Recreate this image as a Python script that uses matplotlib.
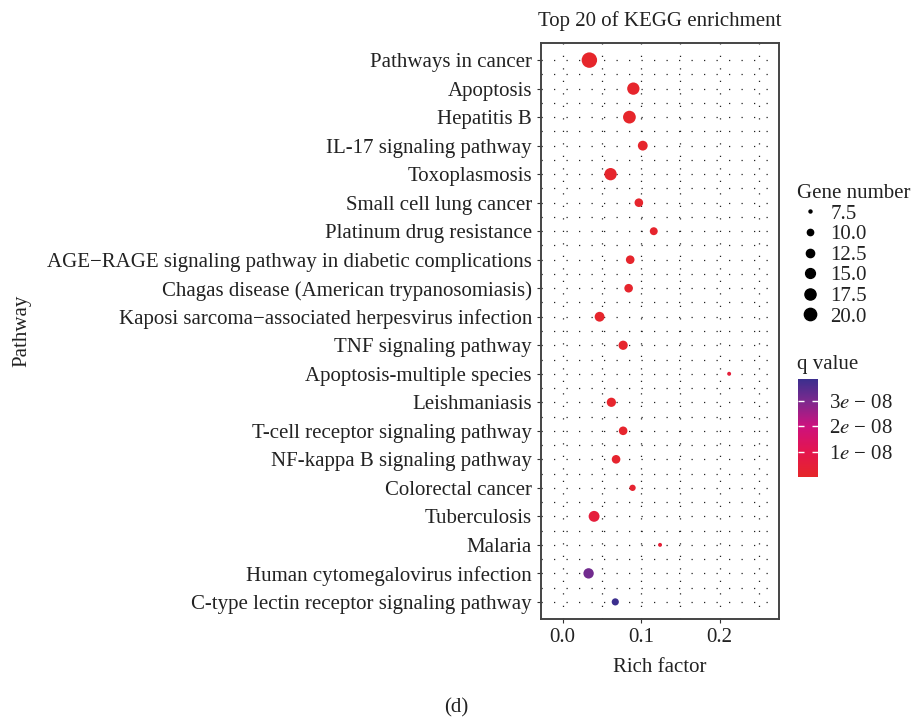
import numpy as np
import matplotlib
matplotlib.use('Agg')
import matplotlib.pyplot as plt
from matplotlib.colors import LinearSegmentedColormap, Normalize
from matplotlib.lines import Line2D

plt.rcParams['font.family'] = ['Liberation Serif', 'DejaVu Serif']
plt.rcParams['mathtext.fontset'] = 'stix'

# data, top row first
pathways = ['Pathways in cancer', 'Apoptosis', 'Hepatitis B', 'IL-17 signaling pathway',
            'Toxoplasmosis', 'Small cell lung cancer', 'Platinum drug resistance',
            'AGE\u2212RAGE signaling pathway in diabetic complications',
            'Chagas disease (American trypanosomiasis)',
            'Kaposi sarcoma\u2212associated herpesvirus infection', 'TNF signaling pathway',
            'Apoptosis-multiple species', 'Leishmaniasis', 'T-cell receptor signaling pathway',
            'NF-kappa B signaling pathway', 'Colorectal cancer', 'Tuberculosis', 'Malaria',
            'Human cytomegalovirus infection', 'C-type lectin receptor signaling pathway']
rich_factor = [0.034, 0.090, 0.085, 0.102, 0.061, 0.097, 0.116, 0.086, 0.084, 0.047,
               0.077, 0.212, 0.062, 0.077, 0.068, 0.089, 0.040, 0.124, 0.033, 0.067]
gene_number = [28, 20, 21, 15, 20, 13, 12, 13, 13, 15,
               14, 8, 14, 13, 13, 10, 17, 8, 16, 11]
q_value = [0.02e-8, 0.05e-8, 0.04e-8, 0.06e-8, 0.05e-8, 0.08e-8, 0.10e-8, 0.07e-8, 0.08e-8, 0.06e-8,
           0.09e-8, 0.45e-8, 0.10e-8, 0.10e-8, 0.12e-8, 0.20e-8, 0.50e-8, 0.35e-8, 3.15e-8, 3.87e-8]

legend_genes = [7.5, 10.0, 12.5, 15.0, 17.5, 20.0]
x_ticks = [0.0, 0.1, 0.2]
q_ticks = [1e-8, 2e-8, 3e-8]
q_ticklabels = ['1$e$ \u2212 08', '2$e$ \u2212 08', '3$e$ \u2212 08']

FS = 15
TXT = '#222222'


def dot_diam(g):
    # gene number -> marker diameter in points
    g = np.asarray(g, dtype=float)
    px = 0.75 + 14.7 * np.sqrt(np.clip(g - 7, 0, None) / 21.0)
    return px * 0.72


cmap = LinearSegmentedColormap.from_list('qv', [(0.0, '#E6262A'), (0.26, '#E4164F'),
                                                (0.52, '#CD127F'), (0.78, '#7B2A8E'),
                                                (1.0, '#3C2F8E')])
norm = Normalize(vmin=0, vmax=3.87e-8)

fig = plt.figure(figsize=(9.13, 7.18), dpi=100)
ax = fig.add_axes([541/913, 1-619/718, 238/913, 576/718])

n = len(pathways)
ypos = np.arange(n)[::-1] + 1

ax.set_xlim(-0.0276, 0.2755)
ax.set_ylim(0.4, n + 0.6)

# dotted grid, major and minor
gs = dict(color='#222222', linewidth=0.9, linestyle=(0, (1, 9)), zorder=0)
for xv in [0.0, 0.05, 0.1, 0.15, 0.2, 0.25]:
    ax.axvline(xv, **gs)
for yv in np.arange(1, n + 1):
    ax.axhline(yv, **gs)
for yv in np.arange(1.5, n, 1.0):
    ax.axhline(yv, **gs)

ax.scatter(rich_factor, ypos, s=dot_diam(gene_number)**2, c=q_value, cmap=cmap, norm=norm,
           edgecolors='none', zorder=3)

ax.set_yticks(ypos)
ax.set_yticklabels(pathways, fontsize=FS, color=TXT)
ax.set_xticks(x_ticks)
ax.set_xticklabels(['%.1f' % v for v in x_ticks], fontsize=FS, color=TXT)
ax.tick_params(length=3, color='#333333', width=0.8)
for sp in ax.spines.values():
    sp.set_color('#444444')
    sp.set_linewidth(1.4)

ax.set_title('Top 20 of KEGG enrichment', fontsize=FS, color=TXT, pad=12)
ax.set_xlabel('Rich factor', fontsize=FS, color=TXT, labelpad=8)
fig.text(22/913, 1-331/718, 'Pathway', rotation=90, ha='center', va='center',
         fontsize=FS, color=TXT)
fig.text(0.5, 1-708/718, '(d)', ha='center', va='center', fontsize=FS, color=TXT)

# size legend
handles = [Line2D([], [], marker='o', linestyle='none', color='black',
                  markersize=d) for d in dot_diam(legend_genes)]
leg = fig.legend(handles, ['%.1f' % v for v in legend_genes], title='Gene number',
                 loc='upper left', bbox_to_anchor=(797/913, 1-184/718), frameon=False,
                 fontsize=FS, title_fontsize=FS, labelspacing=0.05, handletextpad=0.4,
                 borderaxespad=0, handlelength=1.2, borderpad=0)
leg._legend_box.align = 'left'
for t in leg.get_texts():
    t.set_color(TXT)
leg.get_title().set_color(TXT)

# q value colour bar
cax = fig.add_axes([798/913, 1-477/718, 20/913, 98/718])
grad = np.linspace(0, 3.87e-8, 200).reshape(-1, 1)
cax.imshow(grad, aspect='auto', cmap=cmap, norm=norm, origin='lower',
           extent=[0, 1, 0, 3.87e-8])
cax.set_xticks([])
cax.yaxis.tick_right()
cax.set_yticks(q_ticks)
cax.set_yticklabels(q_ticklabels, fontsize=FS, color=TXT)
cax.tick_params(axis='y', direction='in', length=4, color='white', width=1, pad=8,
                left=True, right=True)
for sp in cax.spines.values():
    sp.set_visible(False)
fig.text(797/913, 1-364/718, 'q value', ha='left', va='center', fontsize=FS, color=TXT)

fig.savefig('out.png', dpi=100)
